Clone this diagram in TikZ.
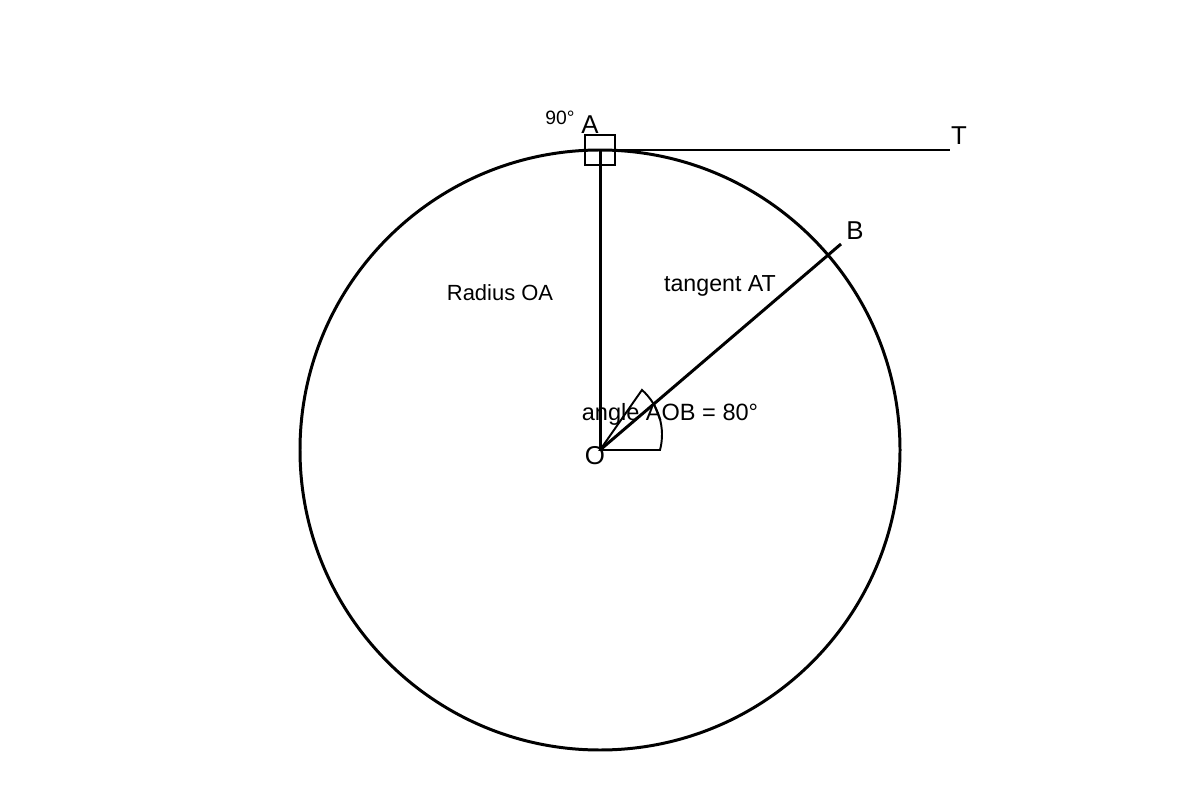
\documentclass[tikz,border=0pt]{standalone}
\usepackage{fontspec}
\setmainfont{Liberation Sans}
\usetikzlibrary{positioning}
\begin{document}
\begin{tikzpicture}[x=0.02cm,y=-0.02cm,
    thick line/.style={line width=1.7pt},
    thin line/.style={line width=1.1pt},
    point label/.style={inner sep=0pt,anchor=base,font=\fontsize{14.7}{16}\selectfont},
    text label/.style={inner sep=0pt,anchor=base,font=\fontsize{12.5}{14}\selectfont},
    angle label/.style={inner sep=0pt,anchor=base,font=\fontsize{13.4}{15}\selectfont},
    small label/.style={inner sep=0pt,anchor=base,font=\fontsize{11}{12}\selectfont}]
    \useasboundingbox (0,0) rectangle (1200,800);
    % Points
    \coordinate (O) at (600,450);
    \coordinate (A) at (600,150);
    \coordinate (T) at (950,150);
    \coordinate (B) at (841,244);
    % Circle
    \draw[thick line] (O) circle[radius=300];
    % Radius OA, tangent AT, radius OB
    \draw[thick line] (O) -- (A);
    \draw[thick line] (A) -- (T);
    \draw[thick line] (O) -- (B);
    % Right angle box
    \draw[thin line] (585,135) rectangle (615,165);
    % Angle sector
    \draw[thin line] (O) -- (660,450) arc[start angle=14.8,end angle=-48.2,radius=60] -- cycle;
    % Point labels
    \node[small label] (lbl90) at (560,125) {90°};
    \node[point label] (lblA) at (590,134) {A};
    \node[point label] (lblT) at (959,145) {T};
    \node[point label] (lblB) at (855,240) {B};
    \node[point label] (lblO) at (595,464) {O};
    % Texts
    \node[text label] (radius) at (500,301) {Radius OA};
    \node[angle label, font=\fontsize{13.2}{15}\selectfont] (tangent) at (720,292) {tangent AT};
    \node[angle label] (angle) at (670,420) {angle AOB = 80°};
\end{tikzpicture}
\end{document}
